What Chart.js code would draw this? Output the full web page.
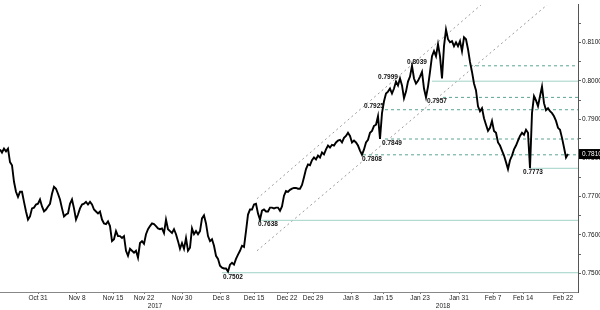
<!DOCTYPE html>
<html>
<head>
<meta charset="utf-8">
<script src="https://cdn.jsdelivr.net/npm/chart.js@4.4.1/dist/chart.umd.min.js"></script>
<style>
  html, body { margin: 0; padding: 0; background: #fff; }
  #wrap { width: 600px; height: 310px; position: relative; }
</style>
</head>
<body>
<div id="wrap"><canvas id="audChart"></canvas></div>
<script>
// AUD/USD, sampled roughly twice per trading day
const prices = [
  0.7822, 0.7814, 0.7824, 0.7817, 0.7824, 0.7789, 0.7781, 0.7738, 0.7712, 0.7699,
  0.7712, 0.7712, 0.7686, 0.7661, 0.7640, 0.7648, 0.7669, 0.7671, 0.7679, 0.7681,
  0.7692, 0.7674, 0.7661, 0.7666, 0.7674, 0.7681, 0.7707, 0.7725, 0.7720, 0.7707,
  0.7692, 0.7669, 0.7648, 0.7653, 0.7656, 0.7681, 0.7692, 0.7669, 0.7640, 0.7653,
  0.7669, 0.7679, 0.7681, 0.7686, 0.7679, 0.7686, 0.7679, 0.7666, 0.7661, 0.7656,
  0.7661, 0.7640, 0.7630, 0.7628, 0.7635, 0.7623, 0.7584, 0.7589, 0.7610, 0.7597,
  0.7597, 0.7592, 0.7597, 0.7559, 0.7546, 0.7564, 0.7559, 0.7554, 0.7559, 0.7541,
  0.7579, 0.7584, 0.7577, 0.7602, 0.7615, 0.7623, 0.7630, 0.7628, 0.7623, 0.7617,
  0.7615, 0.7617, 0.7605, 0.7640, 0.7615, 0.7610, 0.7605, 0.7615, 0.7602, 0.7584,
  0.7564, 0.7579, 0.7564, 0.7592, 0.7559, 0.7567, 0.7617, 0.7602, 0.7610, 0.7602,
  0.7610, 0.7643, 0.7651, 0.7630, 0.7597, 0.7584, 0.7589, 0.7572, 0.7546, 0.7538,
  0.7520, 0.7515, 0.7513, 0.7513, 0.7505, 0.7523, 0.7528, 0.7523, 0.7538, 0.7549,
  0.7559, 0.7572, 0.7569, 0.7610, 0.7653, 0.7666, 0.7666, 0.7679, 0.7681, 0.7656,
  0.7640, 0.7663, 0.7666, 0.7661, 0.7661, 0.7671, 0.7671, 0.7669, 0.7671, 0.7671,
  0.7663, 0.7674, 0.7702, 0.7714, 0.7712, 0.7717, 0.7720, 0.7722, 0.7722, 0.7720,
  0.7720, 0.7730, 0.7750, 0.7771, 0.7783, 0.7781, 0.7794, 0.7801, 0.7796, 0.7806,
  0.7801, 0.7814, 0.7809, 0.7822, 0.7832, 0.7827, 0.7834, 0.7832, 0.7840, 0.7845,
  0.7847, 0.7840, 0.7852, 0.7857, 0.7865, 0.7857, 0.7840, 0.7845, 0.7840, 0.7832,
  0.7819, 0.7808, 0.7822, 0.7840, 0.7847, 0.7865, 0.7870, 0.7883, 0.7886, 0.7908,
  0.7849, 0.7916, 0.7947, 0.7967, 0.7972, 0.7980, 0.7967, 0.7980, 0.7998, 0.7988,
  0.8006, 0.7988, 0.7955, 0.7972, 0.7998, 0.8011, 0.8039, 0.8006, 0.7993, 0.8000,
  0.8011, 0.8023, 0.7980, 0.7957, 0.7985, 0.8023, 0.8064, 0.8077, 0.8064, 0.8095,
  0.8064, 0.8006, 0.8090, 0.8133, 0.8108, 0.8100, 0.8103, 0.8090, 0.8100, 0.8090,
  0.8103, 0.8077, 0.8113, 0.8108, 0.8082, 0.8049, 0.8023, 0.7993, 0.7975, 0.7934,
  0.7921, 0.7929, 0.7903, 0.7886, 0.7870, 0.7878, 0.7896, 0.7870, 0.7865, 0.7840,
  0.7832, 0.7819, 0.7806, 0.7789, 0.7771, 0.7794, 0.7806, 0.7822, 0.7832, 0.7845,
  0.7857, 0.7865, 0.7860, 0.7873, 0.7865, 0.7773, 0.7916, 0.7960, 0.7949, 0.7934,
  0.7960, 0.7985, 0.7942, 0.7924, 0.7929, 0.7921, 0.7916, 0.7908, 0.7896, 0.7878,
  0.7873, 0.7852, 0.7827, 0.7801, 0.7810
];

// date labels and the sample index they sit at
const dateLabels = ['Oct 31', 'Nov 8', 'Nov 15', 'Nov 22', 'Nov 30', 'Dec 8', 'Dec 15', 'Dec 22',
                    'Dec 29', 'Jan 8', 'Jan 15', 'Jan 23', 'Jan 31', 'Feb 7', 'Feb 14', 'Feb 22'];
const dateIdx = [19, 38.5, 56.5, 72, 91, 110.5, 127, 143.5, 156.5, 175.5, 191.5, 210, 229.5, 246.5, 261.5, 281.5];
const yearLabels = ['2017', '2018'];
const yearIdx = [77.5, 221.5];

// support / resistance levels (start index of each line)
const dashedLevels = [0.8039, 0.7957, 0.7925, 0.7849, 0.7808];
const dashedStarts = [232, 221.5, 192.5, 192.5, 181.5];
const solidLevels = [0.7999, 0.7773, 0.7638, 0.7502];
const solidStarts = [216, 265, 129, 111];

// level call-outs
const calloutValues = [0.8039, 0.7999, 0.7957, 0.7925, 0.7849, 0.7808, 0.7773, 0.7638, 0.7502];
const calloutIdx = [208.5, 194, 218.5, 187, 196, 186, 266.5, 134, 116.5];
const calloutAbove = [true, true, false, true, false, false, false, false, false];

// rising channel
const channelIdx = [128.5, 289];
const channelUpper = [0.7694, 0.8415];
const channelLower = [0.7559, 0.8265];

const lastIdx = 289;
const FONT = "'Liberation Sans', Arial, sans-serif";

function levelSet(values, starts, color, dash) {
    return values.map((v, i) => ({
        data: [{x: starts[i], y: v}, {x: lastIdx, y: v}],
        borderColor: color,
        borderWidth: 1,
        borderDash: dash,
        pointRadius: 0
    }));
}

const annotate = {
    id: 'annotate',
    afterDatasetsDraw(chart) {
        const {ctx, scales: {x, y}} = chart;
        ctx.save();
        ctx.font = "bold 6.5px " + FONT;
        ctx.fillStyle = '#111';
        ctx.textAlign = 'center';
        calloutValues.forEach((v, i) => {
            const px = x.getPixelForValue(calloutIdx[i]);
            const py = y.getPixelForValue(v);
            ctx.textBaseline = calloutAbove[i] ? 'bottom' : 'top';
            ctx.fillText(v.toFixed(4), px, calloutAbove[i] ? py - 0.5 : py + 1);
        });
        ctx.restore();
    },
    afterDraw(chart) {
        const {ctx, scales: {x, y}} = chart;
        // year row under the date labels
        ctx.save();
        ctx.font = "6.5px " + FONT;
        ctx.fillStyle = '#222';
        ctx.textAlign = 'center';
        ctx.textBaseline = 'middle';
        yearLabels.forEach((t, i) => ctx.fillText(t, x.getPixelForValue(yearIdx[i]), 306));
        // last price tag
        const last = prices[prices.length - 1];
        const py = y.getPixelForValue(last);
        ctx.fillStyle = '#000';
        ctx.fillRect(y.left + 1, py - 5, y.right - y.left - 1, 10);
        ctx.fillStyle = '#fff';
        ctx.textAlign = 'left';
        ctx.fillText(last.toFixed(4), y.left + 4, py);
        ctx.restore();
    }
};

const ctx = document.getElementById('audChart').getContext('2d');
new Chart(ctx, {
    type: 'line',
    data: {
        datasets: [
            {
                data: prices.map((p, i) => ({x: i, y: p})),
                borderColor: '#000',
                borderWidth: 1.9,
                pointRadius: 0,
                tension: 0
            },
            ...levelSet(dashedLevels, dashedStarts, 'rgb(90,165,148)', [3, 3]),
            ...levelSet(solidLevels, solidStarts, 'rgb(160,210,198)', []),
            {
                data: channelIdx.map((v, i) => ({x: v, y: channelUpper[i]})),
                borderColor: '#9a9a9a', borderWidth: 1, borderDash: [2, 3], pointRadius: 0
            },
            {
                data: channelIdx.map((v, i) => ({x: v, y: channelLower[i]})),
                borderColor: '#9a9a9a', borderWidth: 1, borderDash: [2, 3], pointRadius: 0
            }
        ]
    },
    options: {
        responsive: true,
        maintainAspectRatio: false,
        animation: false,
        layout: { padding: { bottom: 8 } },
        plugins: { legend: { display: false }, tooltip: { enabled: false } },
        scales: {
            x: {
                type: 'linear',
                position: 'bottom',
                min: 0,
                max: lastIdx,
                afterBuildTicks: s => { s.ticks = dateIdx.map(v => ({value: v})); },
                afterFit: s => { s.height = 10; },
                ticks: {
                    autoSkip: false,
                    maxRotation: 0,
                    padding: 0,
                    color: '#222',
                    font: { family: FONT, size: 6.5 },
                    callback: v => dateLabels[dateIdx.indexOf(v)]
                },
                grid: { drawOnChartArea: false, tickLength: 2, color: '#777' },
                border: { color: '#888', dash: [3, 2] }
            },
            y: {
                position: 'right',
                min: 0.7452,
                max: 0.8197,
                afterBuildTicks: s => {
                    const t = [];
                    for (let k = 0; k <= 14; k++) t.push({value: +(0.745 + k * 0.005).toFixed(3)});
                    s.ticks = t.filter(o => o.value >= 0.7452);
                },
                afterFit: s => { s.width = 22; },
                ticks: {
                    padding: 1,
                    color: '#111',
                    font: { family: FONT, size: 6.5 },
                    callback: v => Math.abs(v * 100 - Math.round(v * 100)) < 1e-6 ? v.toFixed(4) : ''
                },
                grid: { drawOnChartArea: false, tickLength: 3, color: '#666' },
                border: { color: '#555' }
            }
        }
    },
    plugins: [annotate]
});
</script>
</body>
</html>
